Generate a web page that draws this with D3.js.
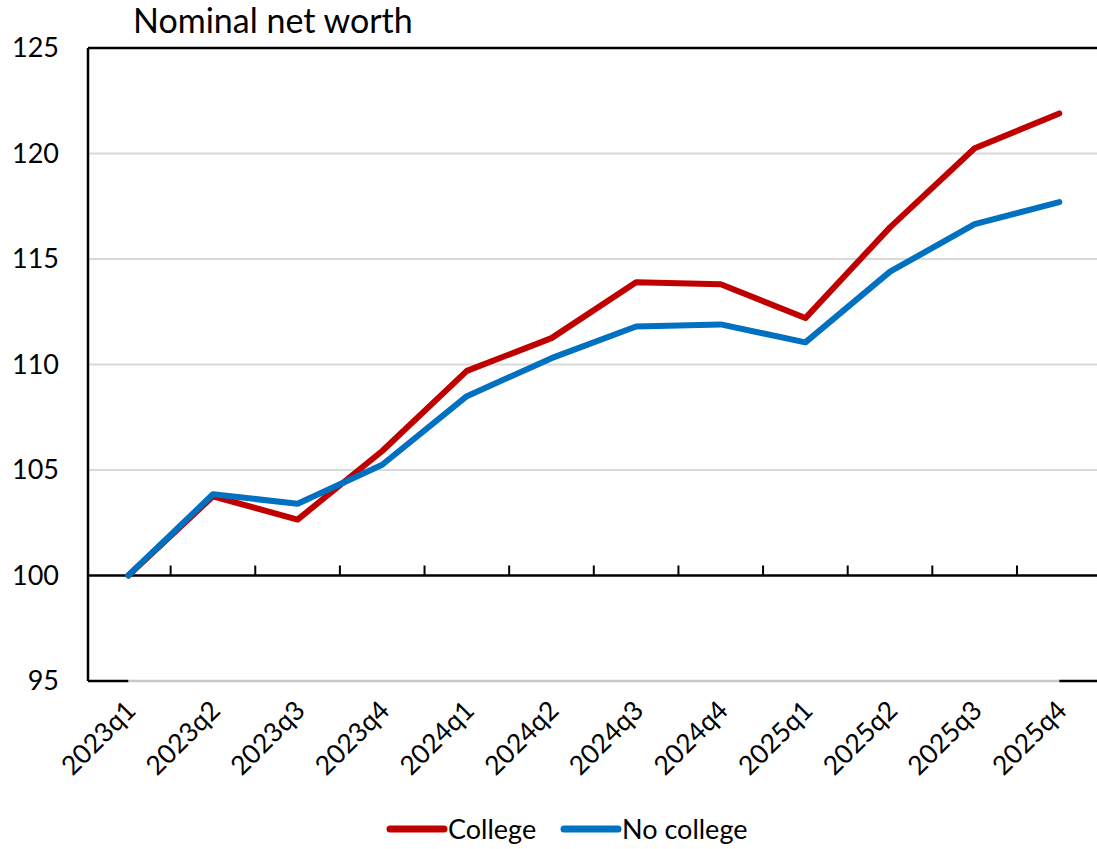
<!DOCTYPE html>
<html><head><meta charset="utf-8">
<script src="https://cdn.jsdelivr.net/npm/d3@7"></script>
<style>
html,body{margin:0;padding:0;background:#fff;}
svg{display:block;font-family:Lato,"Open Sans",sans-serif;}
</style></head>
<body><svg id="c" width="1097" height="849"></svg>
<script>
const categories = ["2023q1","2023q2","2023q3","2023q4","2024q1","2024q2","2024q3","2024q4","2025q1","2025q2","2025q3","2025q4"];
const college   = [100, 103.75, 102.65, 105.9, 109.7, 111.25, 113.9, 113.8, 112.2, 116.5, 120.25, 121.9];
const noCollege = [100, 103.85, 103.4, 105.25, 108.5, 110.3, 111.8, 111.9, 111.05, 114.4, 116.65, 117.7];
const yTicks = [95, 100, 105, 110, 115, 120, 125];
const seriesNames = ["College", "No college"];
const seriesColors = ["#C00000", "#0070C0"];
const title = "Nominal net worth";

const svg = d3.select("#c");
const pLeft = 88, pTop = 48, pBottom = 681;
const x = d3.scaleBand().domain(categories).range([86, 1101.6]);
const cx = d => x(d) + x.bandwidth() / 2;
const y = d3.scaleLinear().domain([95, 125]).range([pBottom, pTop]);

// gridlines
svg.append("g").selectAll("line").data(yTicks.filter(t => t > 100 && t < 125)).join("line")
  .attr("x1", pLeft + 1).attr("x2", 1097).attr("y1", d => y(d)).attr("y2", d => y(d))
  .attr("stroke", "#D9D9D9").attr("stroke-width", 2);
// bottom (95) line: grey in the middle, black at the ends
const first = cx(categories[0]), last = cx(categories[categories.length - 1]);
svg.append("line").attr("x1", first).attr("x2", last).attr("y1", y(95)).attr("y2", y(95))
  .attr("stroke", "#C8C8C8").attr("stroke-width", 2.5);
svg.append("line").attr("x1", pLeft).attr("x2", first).attr("y1", y(95)).attr("y2", y(95))
  .attr("stroke", "#000").attr("stroke-width", 2.5);
svg.append("line").attr("x1", last).attr("x2", 1097).attr("y1", y(95)).attr("y2", y(95))
  .attr("stroke", "#000").attr("stroke-width", 2.5);
// top border
svg.append("line").attr("x1", pLeft).attr("x2", 1097).attr("y1", y(125)).attr("y2", y(125))
  .attr("stroke", "#000").attr("stroke-width", 2.5);

// y axis
const yAxis = svg.append("g").attr("transform", `translate(${pLeft},0)`)
  .call(d3.axisLeft(y).tickValues(yTicks).tickSize(0).tickPadding(29).tickFormat(d3.format("d")));
yAxis.select(".domain").attr("stroke", "#000").attr("stroke-width", 2.5).attr("d", `M0,${pTop}V${pBottom}`);
yAxis.selectAll("text").attr("font-size", 27).attr("fill", "#000").attr("font-family", "Lato,'Open Sans',sans-serif");

// x axis at 100
const xAxisG = svg.append("g").attr("transform", `translate(0,${y(100)})`);
xAxisG.append("line").attr("x1", pLeft).attr("x2", 1097).attr("stroke", "#000").attr("stroke-width", 2.5);
xAxisG.selectAll("line.tk").data(categories.slice(1)).join("line").attr("class", "tk")
  .attr("x1", d => x(d)).attr("x2", d => x(d)).attr("y1", 0).attr("y2", -10)
  .attr("stroke", "#000").attr("stroke-width", 2);

// x labels rotated
svg.append("g").selectAll("text").data(categories).join("text")
  .attr("transform", d => `translate(${cx(d) + 9},${pBottom + 31}) rotate(-45)`)
  .attr("text-anchor", "end").attr("font-size", 26.5).attr("fill", "#000")
  .text(d => d);

// lines
const line = d3.line().x((d, i) => cx(categories[i])).y(d => y(d));
[college, noCollege].forEach((s, k) => {
  svg.append("path").datum(s).attr("d", line).attr("fill", "none")
    .attr("stroke", seriesColors[k]).attr("stroke-width", 6)
    .attr("stroke-linecap", "round").attr("stroke-linejoin", "round");
});

// title
svg.append("text").attr("x", 133).attr("y", 33).attr("font-size", 34).attr("fill", "#000").text(title);

// legend
const legX = [388, 562];
seriesNames.forEach((n, k) => {
  const g = svg.append("g").attr("transform", `translate(${legX[k]},829)`);
  g.append("line").attr("x1", 2).attr("x2", 56).attr("stroke", seriesColors[k]).attr("stroke-width", 7).attr("stroke-linecap", "round");
  g.append("text").attr("x", 60).attr("y", 9.5).attr("font-size", 27).attr("fill", "#000").text(n);
});
</script></body></html>
